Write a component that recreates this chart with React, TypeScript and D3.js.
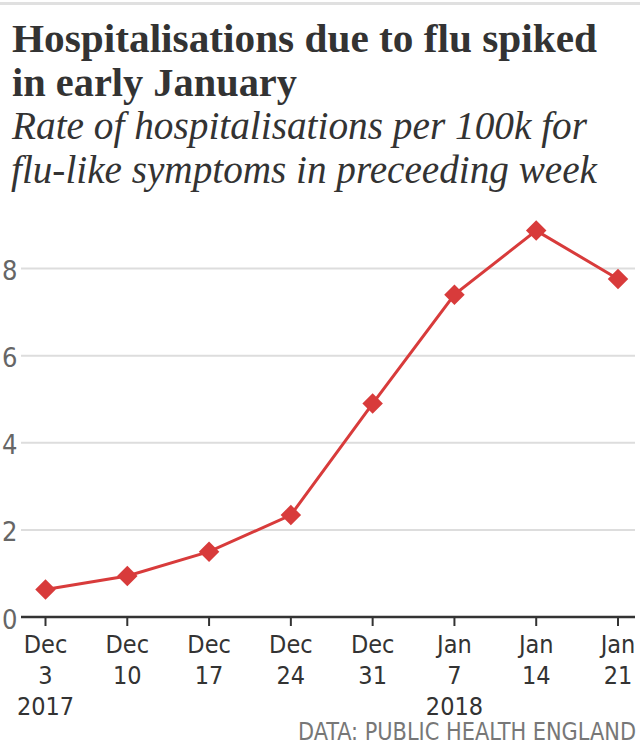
import React from 'react';
import * as d3 from 'd3';

const categories = ['2017-12-03', '2017-12-10', '2017-12-17', '2017-12-24', '2017-12-31', '2018-01-07', '2018-01-14', '2018-01-21'];
const monthLabels = ['Dec', 'Dec', 'Dec', 'Dec', 'Dec', 'Jan', 'Jan', 'Jan'];
const dayLabels = ['3', '10', '17', '24', '31', '7', '14', '21'];
const yearLabels = ['2017', '', '', '', '', '2018', '', ''];
const values = [0.63, 0.94, 1.5, 2.34, 4.9, 7.4, 8.87, 7.76];
const yTicks = [0, 2, 4, 6, 8];

const titleLines = ['Hospitalisations due to flu spiked', 'in early January'];
const subtitleLines = ['Rate of hospitalisations per 100k for', 'flu-like symptoms in preceeding week'];
const source = 'DATA: PUBLIC HEALTH ENGLAND';

const W = 640;
const H = 749;

export default function App() {
  const x = d3.scalePoint<string>().domain(categories).range([45.5, 618]);
  const y = d3.scaleLinear().domain([0, 8]).range([617, 268.5]);
  const line = d3
    .line<number>()
    .x((_, i) => x(categories[i]) as number)
    .y((d) => y(d));
  const diamond = d3.symbol().type(d3.symbolSquare).size(210)();

  const sansCond = '"DejaVu Sans Condensed", "DejaVu Sans", sans-serif';
  const serif = '"Liberation Serif", "DejaVu Serif", serif';

  return (
    <svg
      width={W}
      height={H}
      style={{ position: 'absolute', left: 0, top: 0, background: '#fff' }}
    >
      <rect x={0} y={0} width={W} height={H} fill="#fff" />
      <rect x={0} y={2} width={W} height={3} fill="#e0e0e0" />

      <g fill="#333" fontFamily={serif} fontWeight="bold" fontSize={41}>
        <text x={12} y={52} textLength={585} lengthAdjust="spacingAndGlyphs">
          {titleLines[0]}
        </text>
        <text x={12} y={96} textLength={285} lengthAdjust="spacingAndGlyphs">
          {titleLines[1]}
        </text>
      </g>
      <g fill="#333" fontFamily={serif} fontStyle="italic" fontSize={40}>
        <text x={12} y={139} textLength={575} lengthAdjust="spacingAndGlyphs">
          {subtitleLines[0]}
        </text>
        <text x={11} y={183} textLength={586} lengthAdjust="spacingAndGlyphs">
          {subtitleLines[1]}
        </text>
      </g>

      {yTicks.map((t) => (
        <g key={t}>
          {t !== 0 && (
            <line x1={21} x2={635} y1={y(t)} y2={y(t)} stroke="#ddd" strokeWidth={2} />
          )}
          <text
            x={2}
            y={y(t) + 2}
            dominantBaseline="central"
            fill="#666"
            fontFamily={sansCond}
            fontStretch="condensed"
            fontSize={27}
          >
            {t}
          </text>
        </g>
      ))}

      <line x1={21} x2={635} y1={617} y2={617} stroke="#333" strokeWidth={2.5} />
      {categories.map((c, i) => (
        <g key={c} transform={`translate(${x(c)},0)`}>
          <line x1={0} x2={0} y1={617} y2={626} stroke="#333" strokeWidth={2} />
          <g
            fill="#333"
            fontFamily={sansCond}
            fontStretch="condensed"
            fontSize={25}
            textAnchor="middle"
          >
            <text y={653}>{monthLabels[i]}</text>
            <text y={684}>{dayLabels[i]}</text>
            {yearLabels[i] && <text y={715}>{yearLabels[i]}</text>}
          </g>
        </g>
      ))}

      <path d={line(values) || ''} fill="none" stroke="#d83b3b" strokeWidth={3} />
      {values.map((v, i) => (
        <path
          key={i}
          d={diamond || ''}
          transform={`translate(${x(categories[i])},${y(v)}) rotate(45)`}
          fill="#d83b3b"
        />
      ))}

      <text
        x={636}
        y={740}
        textAnchor="end"
        fill="#777"
        fontFamily={sansCond}
        fontStretch="condensed"
        fontSize={24}
        textLength={338}
        lengthAdjust="spacingAndGlyphs"
      >
        {source}
      </text>
    </svg>
  );
}
